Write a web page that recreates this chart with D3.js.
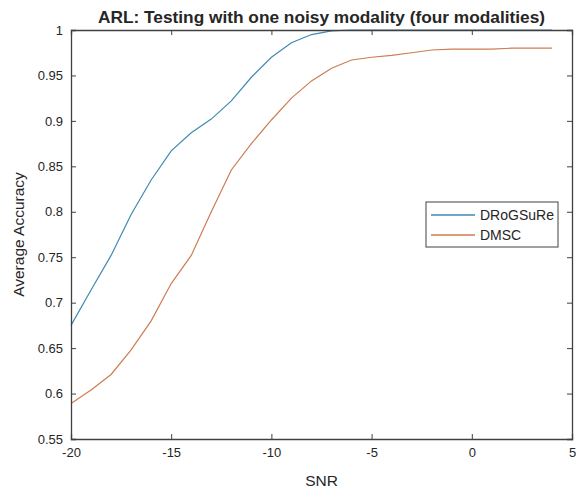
<!DOCTYPE html>
<html>
<head>
<meta charset="utf-8">
<script src="https://cdn.jsdelivr.net/npm/d3@7"></script>
<style>
  body { margin: 0; background: #fff; }
  svg text { font-family: "Liberation Sans", Arial, sans-serif; fill: #262626; }
</style>
</head>
<body>
<svg id="chart" width="583" height="497"></svg>
<script>
const snr = [-20,-19,-18,-17,-16,-15,-14,-13,-12,-11,-10,-9,-8,-7,-6,-5,-4,-3,-2,-1,0,1,2,3,4];
const drogsure = [0.675,0.714,0.752,0.797,0.835,0.867,0.887,0.902,0.922,0.948,0.970,0.986,0.995,0.999,1.0,1.0,1.0,1.0,1.0,1.0,1.0,1.0,1.0,1.0,1.0];
const dmsc = [0.589,0.604,0.621,0.648,0.680,0.721,0.752,0.800,0.846,0.875,0.901,0.925,0.944,0.958,0.967,0.970,0.972,0.975,0.978,0.979,0.979,0.979,0.980,0.980,0.980];
const seriesNames = ["DRoGSuRe", "DMSC"];
const seriesColors = ["#4189b2", "#cc7d52"];
const xTicks = [-20,-15,-10,-5,0,5];
const yTicks = [0.55,0.6,0.65,0.7,0.75,0.8,0.85,0.9,0.95,1];

const svg = d3.select("#chart");
const L = 71, R = 572, T = 30, B = 439;
const x = d3.scaleLinear().domain([-20,5]).range([L,R]);
const y = d3.scaleLinear().domain([0.55,1]).range([B,T]);
const axisColor = "#404040";

// lines
const series = [drogsure, dmsc];
const line = d3.line().x((d,i)=>x(snr[i])).y(d=>y(d));
series.forEach((s,k)=>{
  svg.append("path").datum(s).attr("d", line)
    .attr("fill","none").attr("stroke",seriesColors[k]).attr("stroke-width",1.2);
});

// axes (MATLAB style, ticks inward, box)
const fmtY = d => String(+d.toFixed(2));
const fmtX = d => String(d);
const gx = svg.append("g").attr("transform",`translate(0,${B})`)
  .call(d3.axisBottom(x).tickValues(xTicks).tickSize(-5).tickPadding(9).tickFormat(fmtX));
const gxTop = svg.append("g").attr("transform",`translate(0,${T})`)
  .call(d3.axisTop(x).tickValues(xTicks).tickSize(-5).tickFormat(""));
const gy = svg.append("g").attr("transform",`translate(${L},0)`)
  .call(d3.axisLeft(y).tickValues(yTicks).tickSize(-5).tickPadding(8).tickFormat(fmtY));
const gyR = svg.append("g").attr("transform",`translate(${R},0)`)
  .call(d3.axisRight(y).tickValues(yTicks).tickSize(-5).tickFormat(""));
[gx,gxTop,gy,gyR].forEach(g=>{
  g.selectAll("path.domain").attr("stroke",axisColor).attr("stroke-width",1.3);
  g.selectAll(".tick line").attr("stroke",axisColor);
  g.selectAll(".tick text").attr("font-size",13).attr("fill","#262626")
    .style("font-family","'Liberation Sans', Arial, sans-serif");
});

// title and labels
svg.append("text").attr("x",(L+R)/2).attr("y",23).attr("text-anchor","middle")
  .attr("font-size",17.3).attr("font-weight","bold")
  .text("ARL: Testing with one noisy modality (four modalities)");
svg.append("text").attr("x",(L+R)/2).attr("y",486).attr("text-anchor","middle")
  .attr("font-size",15.5).text("SNR");
svg.append("text").attr("transform",`translate(24,${(T+B)/2}) rotate(-90)`)
  .attr("text-anchor","middle").attr("font-size",15.5).text("Average Accuracy");

// legend
const lg = svg.append("g");
lg.append("rect").attr("x",426).attr("y",202).attr("width",132).attr("height",45)
  .attr("fill","#fff").attr("stroke",axisColor).attr("stroke-width",1);
seriesNames.forEach((n,k)=>{
  const yy = 215 + k*20;
  lg.append("line").attr("x1",431).attr("x2",475).attr("y1",yy).attr("y2",yy)
    .attr("stroke",seriesColors[k]).attr("stroke-width",1.5);
  lg.append("text").attr("x",480).attr("y",yy+5).attr("font-size",14).text(n);
});
</script>
</body>
</html>
